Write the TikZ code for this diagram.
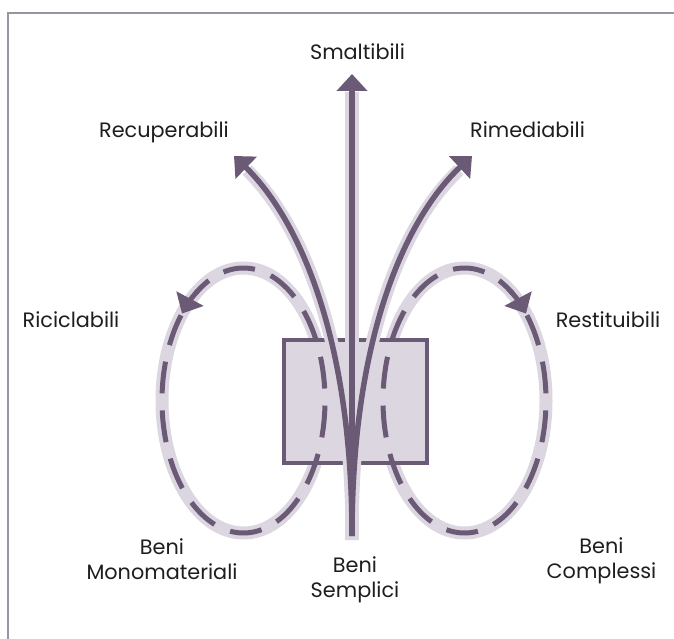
\documentclass[tikz,border=0pt]{standalone}
\usepackage{fontspec}
\setmainfont{Poppins}
\usetikzlibrary{arrows.meta}
\definecolor{dk}{HTML}{6B5A75}
\definecolor{lt}{HTML}{DCD6E0}
\definecolor{fr}{HTML}{9A93A0}
\definecolor{tx}{HTML}{1E1E1E}
\tikzset{
  lbl/.style={text=tx,font=\fontsize{20.8}{25}\selectfont,align=center,inner sep=0pt,anchor=base},
  halo/.style={draw=lt,line width=13pt},
  core/.style={draw=dk,line width=5.5pt},
  tip/.style={-{Triangle[length=17pt,width=30pt]}},
  dsh/.style={draw=dk,line width=5pt,dash pattern=on 32pt off 17pt},
}
\begin{document}
\begin{tikzpicture}[x=1pt,y=-1pt]
\useasboundingbox (0,0) rectangle (674,639);
% frame
\draw[fr,line width=1.5pt] (8,639) -- (8,13) -- (674,13);
% coordinates
\coordinate (base) at (352,536);
\coordinate (top) at (352,74);
\coordinate (lt) at (234,156);
\coordinate (rt) at (472,156);
\coordinate (lc) at (243.5,400.5);
\coordinate (rc) at (464.5,400.5);
% ellipse halos
\draw[halo] (lc) ellipse [x radius=81.5, y radius=132.5];
\draw[halo] (rc) ellipse [x radius=81.5, y radius=132.5];
% box
\node[draw=dk,fill=lt,line width=4pt,minimum width=143pt,minimum height=123pt,inner sep=0pt] (box) at (355.5,401.5) {};
% ellipse dashes
\draw[dsh] (lc) ++(220:81.5 and 132.5) arc[start angle=220,end angle=-126,x radius=81.5,y radius=132.5];
\draw[dsh] (rc) ++(320:81.5 and 132.5) arc[start angle=320,end angle=666,x radius=81.5,y radius=132.5];
% arrow heads on ellipses
\draw[draw=dk,line width=5pt,tip] (lc) ++(236:81.5 and 132.5) arc[start angle=236,end angle=221,x radius=81.5,y radius=132.5];
\draw[draw=dk,line width=5pt,tip] (rc) ++(304:81.5 and 132.5) arc[start angle=304,end angle=319,x radius=81.5,y radius=132.5];
% arrow halos
\draw[halo,line width=14pt] (352,540) -- (352,92);
\draw[halo,line width=13pt] (352,540) .. controls (352,320) and (292,214) .. (247,170);
\draw[halo,line width=13pt] (352,540) .. controls (352,320) and (412,214) .. (459,170);
% arrows
\draw[core,tip] (base) -- (top);
\draw[core,tip] (base) .. controls (352,320) and (290,210) .. (lt);
\draw[core,tip] (base) .. controls (352,320) and (414,210) .. (rt);
% labels
\node[lbl] (smalt) at (357.5,60) {Smaltibili};
\node[lbl] (recup) at (164,138) {Recuperabili};
\node[lbl] (rimed) at (527.5,138) {Rimediabili};
\node[lbl] (ricic) at (71,327) {Riciclabili};
\node[lbl] (resti) at (608,327) {Restituibili};
\node[lbl] (mono) at (162,579) {Beni\\Monomateriali};
\node[lbl] (sempl) at (355,597) {Beni\\Semplici};
\node[lbl] (compl) at (601.5,578) {Beni\\Complessi};
\end{tikzpicture}
\end{document}
